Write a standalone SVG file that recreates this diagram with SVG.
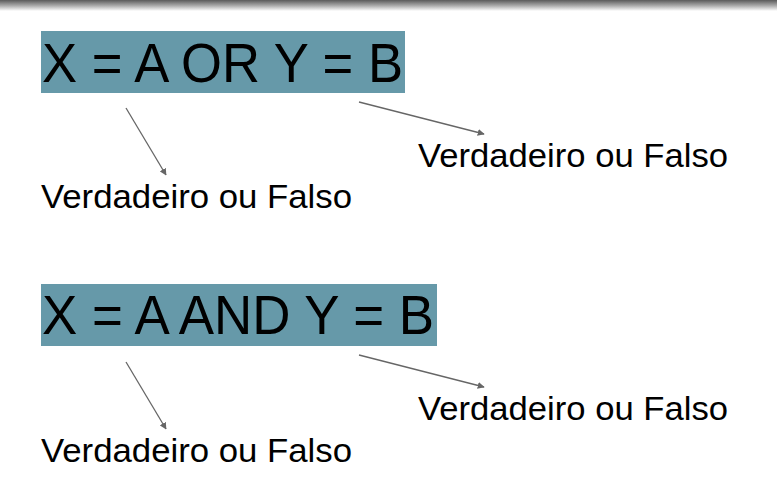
<svg xmlns="http://www.w3.org/2000/svg" width="777" height="484" viewBox="0 0 777 484">
<defs>
<linearGradient id="topbar" x1="0" y1="0" x2="0" y2="1">
<stop offset="0" stop-color="#5a5a5a"/>
<stop offset="0.5" stop-color="#a8a8a8"/>
<stop offset="1" stop-color="#ffffff"/>
</linearGradient>
<marker id="ah" viewBox="0 0 10 10" refX="9" refY="5" markerWidth="7" markerHeight="7" markerUnits="userSpaceOnUse" orient="auto">
<path d="M0,0 L10,5 L0,10 z" fill="#666"/>
</marker>
<style>
.expr{fill:#6699a9}
.big{font-family:"Liberation Sans",Arial,sans-serif;font-size:55px;fill:#000}
.lbl{font-family:"Liberation Sans",Arial,sans-serif;font-size:34px;fill:#000}
.arr{stroke:#666;stroke-width:1.3;fill:none;marker-end:url(#ah)}
</style>
</defs>
<rect width="777" height="484" fill="#fff"/>
<rect x="0" y="0" width="777" height="11" fill="url(#topbar)"/>
<g id="expr-or">
<rect class="expr" x="41" y="31" width="364" height="62"/>
<text class="big" x="42" y="82" textLength="361" lengthAdjust="spacingAndGlyphs">X = A OR Y = B</text>
</g>
<g id="or-left-label">
<text class="lbl" x="41" y="208" textLength="311" lengthAdjust="spacingAndGlyphs">Verdadeiro ou Falso</text>
</g>
<g id="or-right-label">
<text class="lbl" x="418" y="167" textLength="310" lengthAdjust="spacingAndGlyphs">Verdadeiro ou Falso</text>
</g>
<g id="expr-and">
<rect class="expr" x="41" y="284" width="396" height="62"/>
<text class="big" x="42" y="334" textLength="392" lengthAdjust="spacingAndGlyphs">X = A AND Y = B</text>
</g>
<g id="and-left-label">
<text class="lbl" x="41" y="462" textLength="311" lengthAdjust="spacingAndGlyphs">Verdadeiro ou Falso</text>
</g>
<g id="and-right-label">
<text class="lbl" x="418" y="420" textLength="310" lengthAdjust="spacingAndGlyphs">Verdadeiro ou Falso</text>
</g>
<g id="connectors">
<line class="arr" x1="126" y1="108" x2="166" y2="175"/>
<line class="arr" x1="359" y1="102" x2="484" y2="134"/>
<line class="arr" x1="126" y1="362" x2="166" y2="429"/>
<line class="arr" x1="359" y1="355" x2="484" y2="387"/>
</g>
</svg>
